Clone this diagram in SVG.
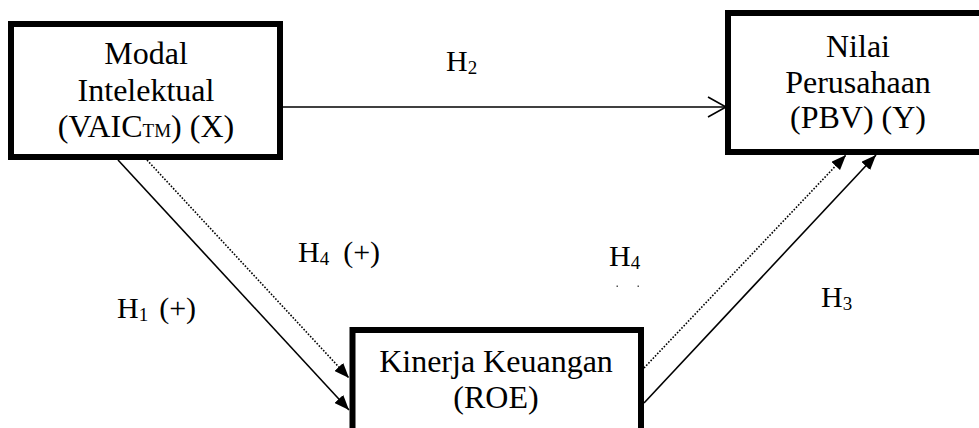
<svg xmlns="http://www.w3.org/2000/svg" width="979" height="428" viewBox="0 0 979 428">
  <style>
    .box { fill: #fff; stroke: #000; stroke-width: 6; }
    .lbl { font-family: "Liberation Serif", "Times New Roman", serif; font-size: 32px; fill: #000; text-anchor: middle; }
    .hyp { font-family: "Liberation Serif", "Times New Roman", serif; font-size: 30px; fill: #000; }
    .sub { font-size: 19px; }
    .solid { fill: none; stroke: #000; stroke-width: 1.6; }
    .dotted { fill: none; stroke: #000; stroke-width: 1.6; stroke-dasharray: 1.6 1.6; }
    .speck { fill: #555; }
  </style>
  <defs>
    <marker id="head" viewBox="0 0 15 12" refX="15" refY="6" markerWidth="15" markerHeight="12" markerUnits="userSpaceOnUse" orient="auto">
      <path d="M0,0 L15,6 L0,12 Z" fill="#000"/>
    </marker>
  </defs>

  <rect width="979" height="428" fill="#fff"/>

  <g id="node-x">
    <rect class="box" x="11" y="24" width="269" height="133"/>
    <text class="lbl" x="146" y="64">Modal</text>
    <text class="lbl" x="146" y="100.5">Intelektual</text>
    <text class="lbl" x="146" y="136.5">(VAIC<tspan font-size="19">TM</tspan>) (X)</text>
  </g>

  <g id="node-y">
    <rect class="box" x="728" y="13" width="262" height="139"/>
    <text class="lbl" x="858" y="57">Nilai</text>
    <text class="lbl" x="858" y="92.5">Perusahaan</text>
    <text class="lbl" x="858" y="128">(PBV) (Y)</text>
  </g>

  <g id="node-z">
    <rect class="box" x="352.5" y="330" width="288.5" height="110"/>
    <text class="lbl" x="496" y="371.5">Kinerja Keuangan</text>
    <text class="lbl" x="496" y="408">(ROE)</text>
  </g>

  <g id="connectors">
    <!-- H2: X to Y, open arrowhead -->
    <line class="solid" x1="283" y1="107" x2="726" y2="107"/>
    <polyline class="solid" points="708,97 726,107 708,117"/>
    <!-- H1: X to Z -->
    <line class="solid" x1="118" y1="160" x2="349" y2="410" marker-end="url(#head)"/>
    <!-- H4: X to Z (mediation path) -->
    <line class="dotted" x1="147" y1="160" x2="349" y2="378" marker-end="url(#head)"/>
    <!-- H3: Z to Y -->
    <line class="solid" x1="644" y1="403" x2="876" y2="155" marker-end="url(#head)"/>
    <!-- H4: Z to Y (mediation path) -->
    <line class="dotted" x1="644" y1="368" x2="846" y2="155" marker-end="url(#head)"/>
  </g>

  <g id="labels">
    <text class="hyp" x="446" y="71">H<tspan class="sub" dy="3">2</tspan></text>
    <text class="hyp" x="298" y="262">H<tspan class="sub" dy="3">4</tspan><tspan dy="-3" dx="14">(+)</tspan></text>
    <text class="hyp" x="117" y="318">H<tspan class="sub" dy="3">1</tspan><tspan dy="-3" dx="11">(+)</tspan></text>
    <text class="hyp" x="609" y="266">H<tspan class="sub" dy="3">4</tspan></text>
    <!-- two faint specks left under the right-hand H4 label -->
    <rect class="speck" x="616.5" y="285.5" width="1.5" height="1.5"/>
    <rect class="speck" x="637.5" y="285.5" width="1.5" height="1.5"/>
    <text class="hyp" x="821" y="307">H<tspan class="sub" dy="3">3</tspan></text>
  </g>
</svg>
